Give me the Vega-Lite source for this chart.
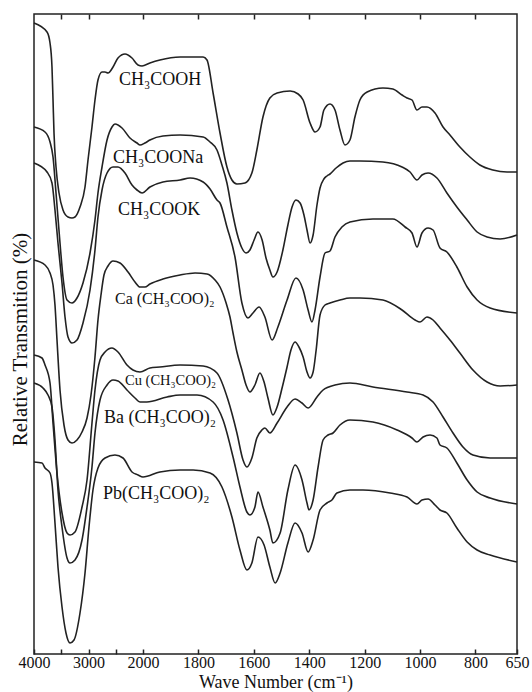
{
  "$schema": "https://vega.github.io/schema/vega-lite/v6.json",
  "width": 483,
  "height": 640,
  "autosize": {"type": "none"},
  "padding": {"left": 34, "top": 14, "right": 15, "bottom": 38},
  "background": "white",
  "config": {
    "view": {"stroke": "#222", "strokeWidth": 1.5},
    "font": "Liberation Serif"
  },
  "datasets": {
    "spectra": [
      {"s":"CH3COOH","wn":4000,"t":126.2},{"s":"CH3COOH","wn":3761,"t":124.4},{"s":"CH3COOH","wn":3706,"t":122.2},{"s":"CH3COOH","wn":3670,"t":117.4},{"s":"CH3COOH","wn":3651,"t":110.8},{"s":"CH3COOH","wn":3633,"t":104.2},{"s":"CH3COOH","wn":3596,"t":97.4},{"s":"CH3COOH","wn":3541,"t":92.2},{"s":"CH3COOH","wn":3468,"t":88.8},{"s":"CH3COOH","wn":3376,"t":87.4},{"s":"CH3COOH","wn":3303,"t":87.2},{"s":"CH3COOH","wn":3248,"t":87.4},{"s":"CH3COOH","wn":3156,"t":89.4},{"s":"CH3COOH","wn":3064,"t":93.4},{"s":"CH3COOH","wn":3009,"t":98.8},{"s":"CH3COOH","wn":2936,"t":105.4},{"s":"CH3COOH","wn":2881,"t":110.8},{"s":"CH3COOH","wn":2826,"t":114.8},{"s":"CH3COOH","wn":2752,"t":116.4},{"s":"CH3COOH","wn":2697,"t":116.4},{"s":"CH3COOH","wn":2642,"t":116.2},{"s":"CH3COOH","wn":2550,"t":117.4},{"s":"CH3COOH","wn":2459,"t":119.2},{"s":"CH3COOH","wn":2330,"t":120},{"s":"CH3COOH","wn":2202,"t":119.2},{"s":"CH3COOH","wn":2092,"t":117.8},{"s":"CH3COOH","wn":2018,"t":117.6},{"s":"CH3COOH","wn":1975,"t":118.2},{"s":"CH3COOH","wn":1939,"t":118.8},{"s":"CH3COOH","wn":1866,"t":119.4},{"s":"CH3COOH","wn":1783,"t":119.4},{"s":"CH3COOH","wn":1769,"t":118.8},{"s":"CH3COOH","wn":1747,"t":112.2},{"s":"CH3COOH","wn":1722,"t":104.2},{"s":"CH3COOH","wn":1697,"t":97.4},{"s":"CH3COOH","wn":1679,"t":94.8},{"s":"CH3COOH","wn":1661,"t":94},{"s":"CH3COOH","wn":1632,"t":94.2},{"s":"CH3COOH","wn":1607,"t":96.2},{"s":"CH3COOH","wn":1589,"t":100.8},{"s":"CH3COOH","wn":1567,"t":107.4},{"s":"CH3COOH","wn":1542,"t":111.2},{"s":"CH3COOH","wn":1516,"t":112.2},{"s":"CH3COOH","wn":1469,"t":112.6},{"s":"CH3COOH","wn":1440,"t":112},{"s":"CH3COOH","wn":1422,"t":110.8},{"s":"CH3COOH","wn":1397,"t":106.2},{"s":"CH3COOH","wn":1379,"t":104.4},{"s":"CH3COOH","wn":1361,"t":105.4},{"s":"CH3COOH","wn":1347,"t":108.8},{"s":"CH3COOH","wn":1325,"t":110},{"s":"CH3COOH","wn":1307,"t":108.8},{"s":"CH3COOH","wn":1289,"t":104.8},{"s":"CH3COOH","wn":1271,"t":101.8},{"s":"CH3COOH","wn":1253,"t":102.8},{"s":"CH3COOH","wn":1235,"t":107.4},{"s":"CH3COOH","wn":1217,"t":110.8},{"s":"CH3COOH","wn":1191,"t":112.4},{"s":"CH3COOH","wn":1134,"t":113.2},{"s":"CH3COOH","wn":1098,"t":113},{"s":"CH3COOH","wn":1065,"t":111.8},{"s":"CH3COOH","wn":1047,"t":111.2},{"s":"CH3COOH","wn":1029,"t":110.8},{"s":"CH3COOH","wn":1011,"t":108.8},{"s":"CH3COOH","wn":993,"t":109.4},{"s":"CH3COOH","wn":975,"t":109.4},{"s":"CH3COOH","wn":946,"t":108.2},{"s":"CH3COOH","wn":917,"t":105.4},{"s":"CH3COOH","wn":892,"t":103.8},{"s":"CH3COOH","wn":856,"t":101.4},{"s":"CH3COOH","wn":820,"t":99.4},{"s":"CH3COOH","wn":784,"t":97.8},{"s":"CH3COOH","wn":737,"t":96.8},{"s":"CH3COOH","wn":686,"t":96.4},{"s":"CH3COOH","wn":650,"t":96.4},

      {"s":"CH3COONa","wn":4000,"t":105.4},{"s":"CH3COONa","wn":3798,"t":104.4},{"s":"CH3COONa","wn":3706,"t":102.4},{"s":"CH3COONa","wn":3651,"t":99.4},{"s":"CH3COONa","wn":3596,"t":92.2},{"s":"CH3COONa","wn":3523,"t":82.2},{"s":"CH3COONa","wn":3468,"t":75.4},{"s":"CH3COONa","wn":3394,"t":70.8},{"s":"CH3COONa","wn":3303,"t":70.2},{"s":"CH3COONa","wn":3211,"t":71.2},{"s":"CH3COONa","wn":3101,"t":74.2},{"s":"CH3COONa","wn":2972,"t":80.2},{"s":"CH3COONa","wn":2881,"t":86.8},{"s":"CH3COONa","wn":2826,"t":92.2},{"s":"CH3COONa","wn":2752,"t":97.4},{"s":"CH3COONa","wn":2660,"t":102.8},{"s":"CH3COONa","wn":2569,"t":105.4},{"s":"CH3COONa","wn":2514,"t":106},{"s":"CH3COONa","wn":2385,"t":105.2},{"s":"CH3COONa","wn":2239,"t":103.2},{"s":"CH3COONa","wn":2110,"t":102.2},{"s":"CH3COONa","wn":2055,"t":101.8},{"s":"CH3COONa","wn":1993,"t":102.2},{"s":"CH3COONa","wn":1975,"t":102.8},{"s":"CH3COONa","wn":1928,"t":103.6},{"s":"CH3COONa","wn":1866,"t":103.8},{"s":"CH3COONa","wn":1783,"t":103.4},{"s":"CH3COONa","wn":1758,"t":102.4},{"s":"CH3COONa","wn":1733,"t":100.8},{"s":"CH3COONa","wn":1715,"t":97.8},{"s":"CH3COONa","wn":1697,"t":94.2},{"s":"CH3COONa","wn":1679,"t":88.8},{"s":"CH3COONa","wn":1661,"t":84.2},{"s":"CH3COONa","wn":1643,"t":81.2},{"s":"CH3COONa","wn":1628,"t":80.2},{"s":"CH3COONa","wn":1614,"t":80.8},{"s":"CH3COONa","wn":1599,"t":82.8},{"s":"CH3COONa","wn":1585,"t":84.4},{"s":"CH3COONa","wn":1570,"t":82.8},{"s":"CH3COONa","wn":1556,"t":79.2},{"s":"CH3COONa","wn":1542,"t":76.8},{"s":"CH3COONa","wn":1531,"t":75.4},{"s":"CH3COONa","wn":1516,"t":76.4},{"s":"CH3COONa","wn":1495,"t":80.8},{"s":"CH3COONa","wn":1477,"t":85.8},{"s":"CH3COONa","wn":1462,"t":89.4},{"s":"CH3COONa","wn":1448,"t":90.8},{"s":"CH3COONa","wn":1433,"t":90.2},{"s":"CH3COONa","wn":1419,"t":87.8},{"s":"CH3COONa","wn":1408,"t":84.8},{"s":"CH3COONa","wn":1397,"t":82.2},{"s":"CH3COONa","wn":1386,"t":83.8},{"s":"CH3COONa","wn":1372,"t":89.8},{"s":"CH3COONa","wn":1361,"t":93.2},{"s":"CH3COONa","wn":1347,"t":95},{"s":"CH3COONa","wn":1336,"t":95.6},{"s":"CH3COONa","wn":1325,"t":96},{"s":"CH3COONa","wn":1303,"t":97.2},{"s":"CH3COONa","wn":1278,"t":98.2},{"s":"CH3COONa","wn":1253,"t":98.6},{"s":"CH3COONa","wn":1217,"t":98.6},{"s":"CH3COONa","wn":1134,"t":98.4},{"s":"CH3COONa","wn":1065,"t":97.4},{"s":"CH3COONa","wn":1036,"t":96.4},{"s":"CH3COONa","wn":1011,"t":94.8},{"s":"CH3COONa","wn":993,"t":95.8},{"s":"CH3COONa","wn":971,"t":96.2},{"s":"CH3COONa","wn":939,"t":95.2},{"s":"CH3COONa","wn":903,"t":92.2},{"s":"CH3COONa","wn":867,"t":89.4},{"s":"CH3COONa","wn":830,"t":86.8},{"s":"CH3COONa","wn":794,"t":84.4},{"s":"CH3COONa","wn":758,"t":83.4},{"s":"CH3COONa","wn":711,"t":83},{"s":"CH3COONa","wn":650,"t":83.8},

      {"s":"CH3COOK","wn":4000,"t":98.2},{"s":"CH3COOK","wn":3761,"t":96.4},{"s":"CH3COOK","wn":3670,"t":94.2},{"s":"CH3COOK","wn":3615,"t":88.8},{"s":"CH3COOK","wn":3560,"t":82.2},{"s":"CH3COOK","wn":3486,"t":74.2},{"s":"CH3COOK","wn":3431,"t":67.4},{"s":"CH3COOK","wn":3376,"t":63.4},{"s":"CH3COOK","wn":3303,"t":62.2},{"s":"CH3COOK","wn":3211,"t":62.8},{"s":"CH3COOK","wn":3101,"t":66.2},{"s":"CH3COOK","wn":2972,"t":72.8},{"s":"CH3COOK","wn":2881,"t":80.8},{"s":"CH3COOK","wn":2826,"t":87.4},{"s":"CH3COOK","wn":2752,"t":92.8},{"s":"CH3COOK","wn":2660,"t":96.2},{"s":"CH3COOK","wn":2550,"t":97.4},{"s":"CH3COOK","wn":2459,"t":97.4},{"s":"CH3COOK","wn":2330,"t":96.2},{"s":"CH3COOK","wn":2202,"t":93.8},{"s":"CH3COOK","wn":2110,"t":92.8},{"s":"CH3COOK","wn":2018,"t":92.2},{"s":"CH3COOK","wn":1975,"t":93.4},{"s":"CH3COOK","wn":1928,"t":94.4},{"s":"CH3COOK","wn":1866,"t":94.8},{"s":"CH3COOK","wn":1830,"t":95.2},{"s":"CH3COOK","wn":1783,"t":94.4},{"s":"CH3COOK","wn":1758,"t":93},{"s":"CH3COOK","wn":1733,"t":90.8},{"s":"CH3COOK","wn":1722,"t":90.2},{"s":"CH3COOK","wn":1697,"t":85.4},{"s":"CH3COOK","wn":1668,"t":79.4},{"s":"CH3COOK","wn":1643,"t":70.2},{"s":"CH3COOK","wn":1621,"t":67.2},{"s":"CH3COOK","wn":1603,"t":68.2},{"s":"CH3COOK","wn":1581,"t":69.4},{"s":"CH3COOK","wn":1560,"t":67.4},{"s":"CH3COOK","wn":1534,"t":62.8},{"s":"CH3COOK","wn":1513,"t":65.4},{"s":"CH3COOK","wn":1480,"t":70.8},{"s":"CH3COOK","wn":1448,"t":75.2},{"s":"CH3COOK","wn":1422,"t":72.8},{"s":"CH3COOK","wn":1404,"t":68.8},{"s":"CH3COOK","wn":1390,"t":66.4},{"s":"CH3COOK","wn":1379,"t":68.8},{"s":"CH3COOK","wn":1361,"t":75.4},{"s":"CH3COOK","wn":1343,"t":80.2},{"s":"CH3COOK","wn":1325,"t":80.6},{"s":"CH3COOK","wn":1307,"t":83.4},{"s":"CH3COOK","wn":1282,"t":85.4},{"s":"CH3COOK","wn":1253,"t":86.4},{"s":"CH3COOK","wn":1170,"t":87},{"s":"CH3COOK","wn":1098,"t":87},{"s":"CH3COOK","wn":1054,"t":85.4},{"s":"CH3COOK","wn":1029,"t":84.2},{"s":"CH3COOK","wn":1011,"t":81.4},{"s":"CH3COOK","wn":993,"t":84.2},{"s":"CH3COOK","wn":971,"t":85.2},{"s":"CH3COOK","wn":953,"t":84.8},{"s":"CH3COOK","wn":928,"t":81.2},{"s":"CH3COOK","wn":903,"t":80.4},{"s":"CH3COOK","wn":867,"t":77.4},{"s":"CH3COOK","wn":830,"t":73.4},{"s":"CH3COOK","wn":794,"t":70.8},{"s":"CH3COOK","wn":747,"t":69.2},{"s":"CH3COOK","wn":650,"t":68.2},

      {"s":"Ca","wn":4000,"t":78.8},{"s":"Ca","wn":3798,"t":77.8},{"s":"Ca","wn":3706,"t":76.2},{"s":"Ca","wn":3651,"t":73.8},{"s":"Ca","wn":3615,"t":69.8},{"s":"Ca","wn":3578,"t":62.8},{"s":"Ca","wn":3523,"t":52.8},{"s":"Ca","wn":3450,"t":45.8},{"s":"Ca","wn":3376,"t":42.8},{"s":"Ca","wn":3303,"t":42.2},{"s":"Ca","wn":3211,"t":42.8},{"s":"Ca","wn":3119,"t":44.4},{"s":"Ca","wn":3027,"t":47.2},{"s":"Ca","wn":2954,"t":51.8},{"s":"Ca","wn":2881,"t":59.4},{"s":"Ca","wn":2826,"t":66.8},{"s":"Ca","wn":2771,"t":71.8},{"s":"Ca","wn":2716,"t":75.8},{"s":"Ca","wn":2642,"t":77.6},{"s":"Ca","wn":2550,"t":78.6},{"s":"Ca","wn":2422,"t":78.2},{"s":"Ca","wn":2275,"t":76.4},{"s":"Ca","wn":2147,"t":74.4},{"s":"Ca","wn":2055,"t":73.4},{"s":"Ca","wn":1993,"t":73.4},{"s":"Ca","wn":1975,"t":74},{"s":"Ca","wn":1928,"t":75},{"s":"Ca","wn":1866,"t":75.8},{"s":"Ca","wn":1812,"t":76.2},{"s":"Ca","wn":1769,"t":76},{"s":"Ca","wn":1740,"t":74.8},{"s":"Ca","wn":1722,"t":73.4},{"s":"Ca","wn":1700,"t":70.2},{"s":"Ca","wn":1686,"t":67.4},{"s":"Ca","wn":1675,"t":64.2},{"s":"Ca","wn":1661,"t":60.4},{"s":"Ca","wn":1643,"t":56.8},{"s":"Ca","wn":1628,"t":53.8},{"s":"Ca","wn":1614,"t":52.4},{"s":"Ca","wn":1596,"t":53.8},{"s":"Ca","wn":1578,"t":56.2},{"s":"Ca","wn":1563,"t":54.4},{"s":"Ca","wn":1549,"t":51.2},{"s":"Ca","wn":1531,"t":47.8},{"s":"Ca","wn":1516,"t":49.4},{"s":"Ca","wn":1498,"t":53.2},{"s":"Ca","wn":1480,"t":57.4},{"s":"Ca","wn":1466,"t":60.8},{"s":"Ca","wn":1451,"t":62.4},{"s":"Ca","wn":1437,"t":61.4},{"s":"Ca","wn":1422,"t":59.4},{"s":"Ca","wn":1408,"t":56.4},{"s":"Ca","wn":1397,"t":55.2},{"s":"Ca","wn":1386,"t":56.4},{"s":"Ca","wn":1375,"t":60.8},{"s":"Ca","wn":1361,"t":67.8},{"s":"Ca","wn":1343,"t":69.8},{"s":"Ca","wn":1325,"t":70.2},{"s":"Ca","wn":1289,"t":70.8},{"s":"Ca","wn":1253,"t":71.2},{"s":"Ca","wn":1217,"t":71.2},{"s":"Ca","wn":1134,"t":70.8},{"s":"Ca","wn":1065,"t":68.8},{"s":"Ca","wn":1018,"t":66.8},{"s":"Ca","wn":1000,"t":66.4},{"s":"Ca","wn":975,"t":67.4},{"s":"Ca","wn":953,"t":66.8},{"s":"Ca","wn":928,"t":65.2},{"s":"Ca","wn":892,"t":62.8},{"s":"Ca","wn":856,"t":60.2},{"s":"Ca","wn":809,"t":56.8},{"s":"Ca","wn":758,"t":54.4},{"s":"Ca","wn":711,"t":53.6},{"s":"Ca","wn":650,"t":53.8},

      {"s":"Cu","wn":4000,"t":59.8},{"s":"Cu","wn":3853,"t":59.2},{"s":"Cu","wn":3798,"t":57.8},{"s":"Cu","wn":3706,"t":54.2},{"s":"Cu","wn":3651,"t":46.2},{"s":"Cu","wn":3578,"t":36.2},{"s":"Cu","wn":3486,"t":28.2},{"s":"Cu","wn":3394,"t":24.2},{"s":"Cu","wn":3339,"t":23.8},{"s":"Cu","wn":3248,"t":24.4},{"s":"Cu","wn":3119,"t":29.4},{"s":"Cu","wn":3027,"t":34.8},{"s":"Cu","wn":2936,"t":46.2},{"s":"Cu","wn":2881,"t":52.8},{"s":"Cu","wn":2789,"t":58.8},{"s":"Cu","wn":2697,"t":60.4},{"s":"Cu","wn":2569,"t":61.2},{"s":"Cu","wn":2459,"t":60.4},{"s":"Cu","wn":2294,"t":57.8},{"s":"Cu","wn":2184,"t":56.8},{"s":"Cu","wn":2055,"t":56.4},{"s":"Cu","wn":1975,"t":57.2},{"s":"Cu","wn":1939,"t":57.4},{"s":"Cu","wn":1866,"t":57.8},{"s":"Cu","wn":1783,"t":57.6},{"s":"Cu","wn":1733,"t":56.2},{"s":"Cu","wn":1693,"t":50.8},{"s":"Cu","wn":1661,"t":44.2},{"s":"Cu","wn":1639,"t":38.8},{"s":"Cu","wn":1625,"t":37.4},{"s":"Cu","wn":1607,"t":39.2},{"s":"Cu","wn":1589,"t":43.2},{"s":"Cu","wn":1571,"t":44.8},{"s":"Cu","wn":1560,"t":45.2},{"s":"Cu","wn":1542,"t":44.2},{"s":"Cu","wn":1516,"t":46.2},{"s":"Cu","wn":1480,"t":49.4},{"s":"Cu","wn":1451,"t":51},{"s":"Cu","wn":1426,"t":50.2},{"s":"Cu","wn":1404,"t":49.2},{"s":"Cu","wn":1372,"t":51.4},{"s":"Cu","wn":1350,"t":52.8},{"s":"Cu","wn":1307,"t":53.8},{"s":"Cu","wn":1253,"t":54.2},{"s":"Cu","wn":1170,"t":53.4},{"s":"Cu","wn":1047,"t":52.4},{"s":"Cu","wn":989,"t":51.8},{"s":"Cu","wn":953,"t":50.4},{"s":"Cu","wn":917,"t":47.4},{"s":"Cu","wn":881,"t":44.2},{"s":"Cu","wn":845,"t":41.4},{"s":"Cu","wn":809,"t":39.8},{"s":"Cu","wn":747,"t":39.2},{"s":"Cu","wn":650,"t":39.2},

      {"s":"Ba","wn":4000,"t":54.2},{"s":"Ba","wn":3835,"t":53.2},{"s":"Ba","wn":3743,"t":51.8},{"s":"Ba","wn":3670,"t":49.4},{"s":"Ba","wn":3615,"t":42.8},{"s":"Ba","wn":3560,"t":32.8},{"s":"Ba","wn":3486,"t":25.4},{"s":"Ba","wn":3394,"t":19.2},{"s":"Ba","wn":3339,"t":18.2},{"s":"Ba","wn":3248,"t":18.8},{"s":"Ba","wn":3119,"t":22.8},{"s":"Ba","wn":3027,"t":29.4},{"s":"Ba","wn":2936,"t":37.4},{"s":"Ba","wn":2881,"t":44.2},{"s":"Ba","wn":2789,"t":50.8},{"s":"Ba","wn":2660,"t":53.8},{"s":"Ba","wn":2550,"t":54.8},{"s":"Ba","wn":2459,"t":54.6},{"s":"Ba","wn":2294,"t":52.8},{"s":"Ba","wn":2147,"t":51.2},{"s":"Ba","wn":2055,"t":50.4},{"s":"Ba","wn":1986,"t":50.4},{"s":"Ba","wn":1913,"t":51.4},{"s":"Ba","wn":1866,"t":51.8},{"s":"Ba","wn":1805,"t":51.8},{"s":"Ba","wn":1747,"t":50.4},{"s":"Ba","wn":1711,"t":46.8},{"s":"Ba","wn":1675,"t":39.4},{"s":"Ba","wn":1650,"t":33.4},{"s":"Ba","wn":1625,"t":28.4},{"s":"Ba","wn":1614,"t":27.8},{"s":"Ba","wn":1596,"t":29.4},{"s":"Ba","wn":1585,"t":32.4},{"s":"Ba","wn":1567,"t":29.4},{"s":"Ba","wn":1542,"t":24.8},{"s":"Ba","wn":1531,"t":22.2},{"s":"Ba","wn":1505,"t":24.2},{"s":"Ba","wn":1477,"t":32.8},{"s":"Ba","wn":1451,"t":37.8},{"s":"Ba","wn":1426,"t":34.8},{"s":"Ba","wn":1408,"t":30.2},{"s":"Ba","wn":1401,"t":28.8},{"s":"Ba","wn":1386,"t":30.8},{"s":"Ba","wn":1368,"t":37.4},{"s":"Ba","wn":1350,"t":42.8},{"s":"Ba","wn":1332,"t":43.8},{"s":"Ba","wn":1314,"t":44.2},{"s":"Ba","wn":1289,"t":45.8},{"s":"Ba","wn":1253,"t":46.8},{"s":"Ba","wn":1170,"t":46.4},{"s":"Ba","wn":1083,"t":44.8},{"s":"Ba","wn":1029,"t":43.2},{"s":"Ba","wn":1011,"t":42.4},{"s":"Ba","wn":989,"t":43.4},{"s":"Ba","wn":964,"t":43.8},{"s":"Ba","wn":939,"t":43.2},{"s":"Ba","wn":928,"t":41.8},{"s":"Ba","wn":903,"t":41.2},{"s":"Ba","wn":867,"t":38.2},{"s":"Ba","wn":830,"t":34.8},{"s":"Ba","wn":794,"t":32.4},{"s":"Ba","wn":747,"t":31.2},{"s":"Ba","wn":650,"t":30},

      {"s":"Pb","wn":4000,"t":38.4},{"s":"Pb","wn":3853,"t":38.2},{"s":"Pb","wn":3798,"t":37.2},{"s":"Pb","wn":3706,"t":36.2},{"s":"Pb","wn":3670,"t":34.2},{"s":"Pb","wn":3615,"t":26.2},{"s":"Pb","wn":3560,"t":17.4},{"s":"Pb","wn":3486,"t":9.4},{"s":"Pb","wn":3413,"t":4.2},{"s":"Pb","wn":3339,"t":2.2},{"s":"Pb","wn":3266,"t":2.8},{"s":"Pb","wn":3156,"t":8.2},{"s":"Pb","wn":3064,"t":16.2},{"s":"Pb","wn":2991,"t":25.4},{"s":"Pb","wn":2918,"t":32.8},{"s":"Pb","wn":2826,"t":37.2},{"s":"Pb","wn":2697,"t":39.2},{"s":"Pb","wn":2514,"t":39.8},{"s":"Pb","wn":2367,"t":39.2},{"s":"Pb","wn":2202,"t":36.4},{"s":"Pb","wn":2092,"t":35.8},{"s":"Pb","wn":2000,"t":35.4},{"s":"Pb","wn":1939,"t":36.4},{"s":"Pb","wn":1866,"t":36.8},{"s":"Pb","wn":1819,"t":36.8},{"s":"Pb","wn":1758,"t":36.2},{"s":"Pb","wn":1715,"t":33.4},{"s":"Pb","wn":1679,"t":27.4},{"s":"Pb","wn":1650,"t":20.8},{"s":"Pb","wn":1625,"t":16.8},{"s":"Pb","wn":1607,"t":18.2},{"s":"Pb","wn":1585,"t":23.4},{"s":"Pb","wn":1563,"t":21.8},{"s":"Pb","wn":1542,"t":17.4},{"s":"Pb","wn":1523,"t":14.2},{"s":"Pb","wn":1505,"t":16.2},{"s":"Pb","wn":1477,"t":22.2},{"s":"Pb","wn":1451,"t":26.2},{"s":"Pb","wn":1426,"t":24.2},{"s":"Pb","wn":1404,"t":20.4},{"s":"Pb","wn":1386,"t":22.8},{"s":"Pb","wn":1361,"t":28.8},{"s":"Pb","wn":1336,"t":30.2},{"s":"Pb","wn":1318,"t":30.8},{"s":"Pb","wn":1300,"t":32.2},{"s":"Pb","wn":1253,"t":32.8},{"s":"Pb","wn":1206,"t":32.8},{"s":"Pb","wn":1108,"t":32.2},{"s":"Pb","wn":1047,"t":31.4},{"s":"Pb","wn":1011,"t":30},{"s":"Pb","wn":993,"t":30.8},{"s":"Pb","wn":971,"t":31},{"s":"Pb","wn":946,"t":29.8},{"s":"Pb","wn":928,"t":28.8},{"s":"Pb","wn":903,"t":28.2},{"s":"Pb","wn":867,"t":25.2},{"s":"Pb","wn":830,"t":22.4},{"s":"Pb","wn":794,"t":20.8},{"s":"Pb","wn":747,"t":19.8},{"s":"Pb","wn":650,"t":18.4}
    ],
    "labels": [
      {"label":"CH₃COOH","wn":2440,"t":114.8},
      {"label":"CH₃COONa","wn":2550,"t":99.2},
      {"label":"CH₃COOK","wn":2459,"t":88.8},
      {"label":"Ca (CH₃COO)₂","wn":2514,"t":71},
      {"label":"Cu (CH₃COO)₂","wn":2330,"t":54.6},
      {"label":"Ba (CH₃COO)₂","wn":2716,"t":47.2},
      {"label":"Pb(CH₃COO)₂","wn":2734,"t":32}
    ]
  },
  "layer": [
    {
      "data": {"name": "spectra"},
      "mark": {"type": "line", "stroke": "#222", "strokeWidth": 1.6, "interpolate": "monotone"},
      "encoding": {
        "x": {
          "field": "wn", "type": "quantitative",
          "scale": {"type": "linear", "domain": [4000, 2000, 650], "range": [0, 109, 483], "nice": false, "zero": false},
          "axis": {
            "orient": "bottom",
            "values": [4000, 3500, 3000, 2500, 2000, 1800, 1600, 1400, 1200, 1000, 800, 650],
            "format": "d",
            "labelExpr": "datum.value == 3500 || datum.value == 2500 ? '' : datum.label",
            "title": "Wave Number (cm⁻¹)",
            "tickSize": -5, "tickColor": "#222", "tickWidth": 1.5,
            "labelPadding": 5, "labelFontSize": 16, "labelColor": "#111", "labelFont": "Liberation Serif",
            "labelFlush": false, "labelOverlap": false,
            "domain": false, "grid": false,
            "titleFontSize": 18, "titleFontWeight": "normal", "titleColor": "#111", "titleFont": "Liberation Serif",
            "titleY": 33, "titleBaseline": "alphabetic"
          }
        },
        "y": {
          "field": "t", "type": "quantitative",
          "scale": {"domain": [0, 128], "nice": false, "zero": false},
          "axis": {
            "title": "Relative Transmition (%)",
            "labels": false, "ticks": false, "domain": false, "grid": false,
            "titleFontSize": 21, "titleFontWeight": "normal", "titleColor": "#111", "titleFont": "Liberation Serif",
            "titleX": -14, "titleY": 325, "titleBaseline": "middle"
          }
        },
        "detail": {"field": "s"}
      }
    },
    {
      "data": {"name": "labels"},
      "transform": [{"filter": "datum.label != 'Ca (CH₃COO)₂' && datum.label != 'Cu (CH₃COO)₂'"}],
      "mark": {"type": "text", "align": "left", "baseline": "middle", "fontSize": 18, "font": "Liberation Serif", "fill": "#111"},
      "encoding": {
        "x": {
          "field": "wn", "type": "quantitative",
          "axis": {
            "orient": "top",
            "values": [3500, 3000, 2000, 1800, 1600, 1400, 1200, 1000, 800],
            "labels": false, "title": null, "tickSize": -5, "tickColor": "#222", "tickWidth": 1.5,
            "domain": false, "grid": false
          }
        },
        "y": {"field": "t", "type": "quantitative"},
        "text": {"field": "label"}
      }
    },
    {
      "data": {"name": "labels"},
      "transform": [{"filter": "datum.label == 'Ca (CH₃COO)₂'"}],
      "mark": {"type": "text", "align": "left", "baseline": "middle", "fontSize": 16, "font": "Liberation Serif", "fill": "#111"},
      "encoding": {
        "x": {"field": "wn", "type": "quantitative", "axis": null},
        "y": {"field": "t", "type": "quantitative"},
        "text": {"field": "label"}
      }
    },
    {
      "data": {"name": "labels"},
      "transform": [{"filter": "datum.label == 'Cu (CH₃COO)₂'"}],
      "mark": {"type": "text", "align": "left", "baseline": "middle", "fontSize": 14.5, "font": "Liberation Serif", "fill": "#111"},
      "encoding": {
        "x": {"field": "wn", "type": "quantitative", "axis": null},
        "y": {"field": "t", "type": "quantitative"},
        "text": {"field": "label"}
      }
    }
  ],
  "resolve": {"axis": {"x": "independent"}}
}
